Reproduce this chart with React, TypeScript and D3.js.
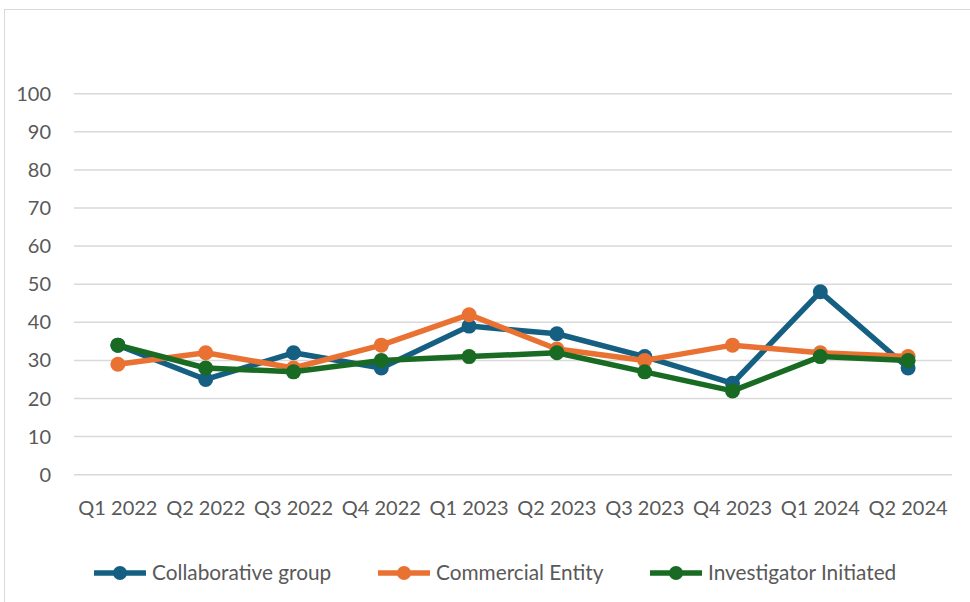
import React from "react";
import * as d3 from "d3";

const categories = ["Q1 2022","Q2 2022","Q3 2022","Q4 2022","Q1 2023","Q2 2023","Q3 2023","Q4 2023","Q1 2024","Q2 2024"];
const collaborative = [34,25,32,28,39,37,31,24,48,28];
const commercial = [29,32,28,34,42,33,30,34,32,31];
const investigator = [34,28,27,30,31,32,27,22,31,30];
const yTicks = [0,10,20,30,40,50,60,70,80,90,100];
const seriesNames = ["Collaborative group","Commercial Entity","Investigator Initiated"];
const seriesColors = ["#156082","#E97132","#196B24"];

const W = 970, H = 602;
const FONT = "Lato, 'Open Sans', sans-serif";

export default function App() {
  const x = d3.scaleBand<string>().domain(categories).range([74, 952]);
  const y = d3.scaleLinear().domain([0, 100]).range([474.7, 93.7]);
  const line = d3.line<number>()
    .x((_, i) => (x(categories[i]) as number) + x.bandwidth() / 2)
    .y(d => y(d));
  const series = [collaborative, commercial, investigator];
  const legendX = [94, 378, 650];
  const legendY = 573;
  return (
    <svg width={W} height={H} style={{ position: "absolute", left: 0, top: 0 }}>
      <rect x={0} y={0} width={W} height={H} fill="#fff" />
      <rect x={4.5} y={9.5} width={W + 10} height={H + 10} fill="none" stroke="#d9d9d9" strokeWidth={1} />
      {yTicks.map(t => (
        <g key={t}>
          <line x1={74} x2={952} y1={y(t)} y2={y(t)} stroke="#d9d9d9" strokeWidth={1.5} />
          <text x={51} y={y(t)} dy="0.35em" textAnchor="end" fontFamily={FONT} fontSize={20} fill="#595959">{t}</text>
        </g>
      ))}
      {categories.map(c => (
        <text key={c} x={(x(c) as number) + x.bandwidth() / 2} y={508} dy="0.35em" textAnchor="middle" fontFamily={FONT} fontSize={20} fill="#595959">{c}</text>
      ))}
      {series.map((s, si) => (
        <g key={si}>
          <path d={line(s) as string} fill="none" stroke={seriesColors[si]} strokeWidth={5.5} strokeLinejoin="round" />
          {s.map((v, i) => (
            <circle key={i} cx={(x(categories[i]) as number) + x.bandwidth() / 2} cy={y(v)} r={7.5} fill={seriesColors[si]} />
          ))}
        </g>
      ))}
      {seriesNames.map((n, i) => (
        <g key={n}>
          <line x1={legendX[i]} x2={legendX[i] + 52} y1={legendY} y2={legendY} stroke={seriesColors[i]} strokeWidth={5.5} />
          <circle cx={legendX[i] + 26} cy={legendY} r={7} fill={seriesColors[i]} />
          <text x={legendX[i] + 58} y={legendY} dy="0.35em" fontFamily={FONT} fontSize={20.8} fill="#595959">{n}</text>
        </g>
      ))}
    </svg>
  );
}
